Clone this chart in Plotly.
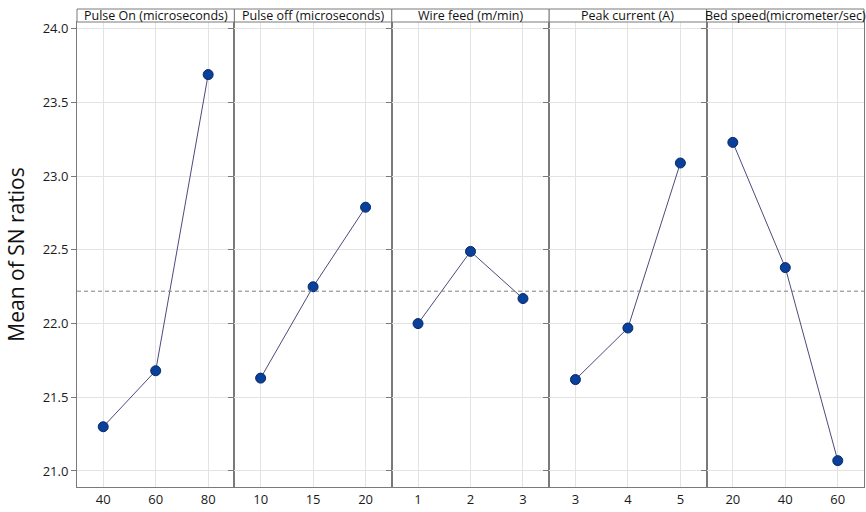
import plotly.graph_objects as go
from plotly.subplots import make_subplots

# Main effects of process factors on mean SN ratio
factors = ["Pulse On (microseconds)", "Pulse off (microseconds)", "Wire feed (m/min)",
           "Peak current (A)", "Bed speed(micrometer/sec)"]
level_labels = [["40", "60", "80"], ["10", "15", "20"], ["1", "2", "3"],
                ["3", "4", "5"], ["20", "40", "60"]]
pulse_on = [21.30, 21.68, 23.69]
pulse_off = [21.63, 22.25, 22.79]
wire_feed = [22.00, 22.49, 22.17]
peak_current = [21.62, 21.97, 23.09]
bed_speed = [23.23, 22.38, 21.07]
series = [pulse_on, pulse_off, wire_feed, peak_current, bed_speed]
grand_mean = 22.22
y_ticks = [21.0, 21.5, 22.0, 22.5, 23.0, 23.5, 24.0]

n = len(factors)
fig = make_subplots(rows=1, cols=n, shared_yaxes=True, horizontal_spacing=0)

for i, vals in enumerate(series):
    fig.add_trace(go.Scatter(
        x=[1, 2, 3], y=vals, mode="lines+markers",
        line=dict(color="#4b4b7c", width=1),
        marker=dict(size=10, color="#0a3f9a", line=dict(color="#062a6a", width=1)),
        showlegend=False, hoverinfo="x+y"), row=1, col=i + 1)
    fig.update_xaxes(
        tickmode="array", tickvals=[1, 2, 3], ticktext=level_labels[i],
        range=[0.5, 3.5], showgrid=True, gridcolor="#e3e3e3", gridwidth=1,
        showline=True, linecolor="#7a7a7a", linewidth=1, mirror=True,
        zeroline=False, ticks="", tickfont=dict(size=13, color="#1a1a1a"),
        row=1, col=i + 1)

fig.update_yaxes(range=[20.891, 24.047], tickmode="array", tickvals=y_ticks,
                 tickformat=".1f", showgrid=True, gridcolor="#e3e3e3",
                 showline=True, linecolor="#7a7a7a", linewidth=1, mirror=True,
                 zeroline=False, ticks="outside", ticklen=5, tickcolor="#7a7a7a",
                 tickfont=dict(size=13, color="#1a1a1a"))
fig.update_yaxes(title=dict(text="Mean of SN ratios", font=dict(size=21, color="#111"),
                            standoff=12), row=1, col=1)

# Grand mean reference line across all panels
fig.add_shape(type="line", xref="paper", yref="y", x0=0, x1=1,
              y0=grand_mean, y1=grand_mean,
              line=dict(color="#808080", width=1, dash="4px,3px"))

# Factor header strips
plot_h = 512 - 22 - 25
strip_h = 13 / plot_h
for i, name in enumerate(factors):
    x0 = i / n
    x1 = (i + 1) / n
    fig.add_shape(type="rect", xref="paper", yref="paper", x0=x0, x1=x1,
                  y0=1, y1=1 + strip_h, line=dict(color="#7a7a7a", width=1),
                  fillcolor="white")
    fig.add_annotation(text=name, xref="paper", yref="paper", x=(x0 + x1) / 2,
                       y=1 + strip_h / 2, showarrow=False, xanchor="center",
                       yanchor="middle", font=dict(size=12.5, color="#111"))

fig.update_layout(width=866, height=512, margin=dict(l=77, r=2, t=22, b=25),
                  paper_bgcolor="white", plot_bgcolor="white",
                  font=dict(family="Open Sans, Noto Sans, sans-serif"))

fig.write_html("out.html")
